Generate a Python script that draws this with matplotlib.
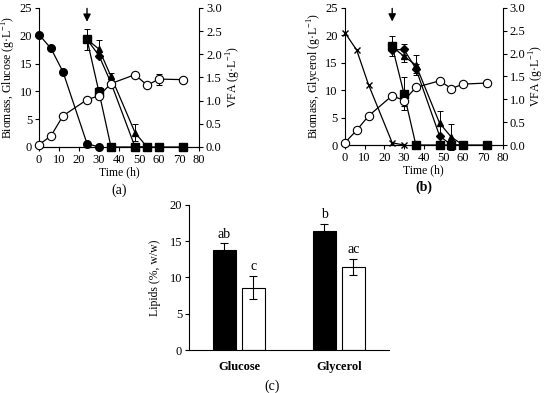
import matplotlib
matplotlib.use("Agg")
import matplotlib.pyplot as plt

plt.rcParams["font.family"] = ["Liberation Serif", "DejaVu Serif"]
plt.rcParams["font.size"] = 9
plt.rcParams["axes.labelsize"] = 8.5
plt.rcParams["mathtext.fontset"] = "custom"
plt.rcParams["mathtext.rm"] = "Liberation Serif"

# ---- panel (a): glucose ----
a_t_sugar = [0, 6, 12, 24, 30]
a_glucose = [20.2, 17.7, 13.5, 0.6, 0.0]
a_t_bio = [0, 6, 12, 24, 30, 36, 48, 54, 60, 72]
a_biomass = [0.4, 2.0, 5.6, 8.5, 9.2, 11.4, 13.0, 11.1, 12.2, 12.1]
a_biomass_err = [0, 0, 0, 0.5, 0.5, 0, 0, 0, 1.0, 0]
a_t_sq = [24, 30, 36, 48, 54, 60, 72]
a_sq = [2.32, 1.18, 0, 0, 0, 0, 0]
a_sq_err = [0.23, 0.12, 0, 0, 0, 0, 0]
a_t_tri = [24, 30, 36, 48, 54]
a_tri = [2.32, 2.11, 1.52, 0.31, 0]
a_tri_err = [0, 0.19, 0.07, 0.19, 0]
a_t_dia = [24, 30, 36, 48, 54]
a_dia = [2.32, 1.97, 1.38, 0, 0]
a_dia_err = [0, 0, 0, 0, 0]

# ---- panel (b): glycerol ----
b_t_sugar = [0, 6, 12, 24, 30]
b_glycerol = [20.5, 17.3, 11.0, 0.4, 0.0]
b_t_bio = [0, 6, 12, 24, 30, 36, 48, 54, 60, 72]
b_biomass = [0.4, 2.7, 5.3, 9.0, 8.1, 10.5, 11.7, 10.3, 11.1, 11.3]
b_biomass_err = [0, 0, 0, 0.5, 1.0, 0, 0, 0, 0, 0]
b_t_sq = [24, 30, 36, 48, 54, 60, 72]
b_sq = [2.16, 1.12, 0, 0, 0, 0, 0]
b_sq_err = [0.22, 0.36, 0, 0, 0, 0, 0]
b_t_tri = [24, 30, 36, 48, 54, 60]
b_tri = [2.15, 1.94, 1.75, 0.48, 0.17, 0]
b_tri_err = [0, 0.12, 0.22, 0.26, 0.28, 0]
b_t_dia = [24, 30, 36, 48, 54, 60]
b_dia = [2.08, 2.09, 1.67, 0.20, 0, 0]
b_dia_err = [0, 0.12, 0.1, 0, 0, 0]

# ---- panel (c): lipids ----
substrates = ["Glucose", "Glycerol"]
lipid_black = [13.8, 16.4]
lipid_black_err = [0.9, 1.0]
lipid_white = [8.6, 11.4]
lipid_white_err = [1.6, 1.1]
letters_black = ["ab", "b"]
letters_white = ["c", "ac"]


def noclip(container):
    for art in container.get_children():
        art.set_clip_on(False)


def kinetics(ax, t_s, sugar, sugar_marker, t_b, bio, bio_err,
             t_sq, sq, sq_err, t_tri, tri, tri_err, t_dia, dia, dia_err,
             ylabel, tag):
    ax2 = ax.twinx()
    kw = dict(color="black", lw=0.9, capsize=2, elinewidth=0.7, capthick=0.7)
    noclip(ax2.errorbar(t_sq, sq, yerr=sq_err, marker="s", ms=5.5, mfc="black", **kw))
    noclip(ax2.errorbar(t_tri, tri, yerr=tri_err, marker="^", ms=5, mfc="black", **kw))
    noclip(ax2.errorbar(t_dia, dia, yerr=dia_err, marker="D", ms=4, mfc="black", **kw))
    if sugar_marker == "o":
        ax.plot(t_s, sugar, color="black", lw=0.9, marker="o", ms=5.5, mfc="black",
                zorder=3, clip_on=False)
    else:
        ax.plot(t_s, sugar, color="black", lw=0.9, marker="x", ms=5, mew=1,
                zorder=3, clip_on=False)
    noclip(ax.errorbar(t_b, bio, yerr=bio_err, marker="o", ms=6, mfc="white", mec="black",
                       mew=0.8, zorder=4, **kw))
    ax.set_zorder(ax2.get_zorder() + 1)
    ax.patch.set_visible(False)

    ax.set_xlim(0, 80)
    ax.set_ylim(0, 25)
    ax2.set_ylim(0, 3.0)
    ax.set_xticks(range(0, 81, 10))
    ax.set_yticks(range(0, 26, 5))
    ax2.set_yticks([0, 0.5, 1.0, 1.5, 2.0, 2.5, 3.0])
    ax2.set_yticklabels(["0.0", "0.5", "1.0", "1.5", "2.0", "2.5", "3.0"])
    for a in (ax, ax2):
        a.spines["top"].set_visible(False)
        a.tick_params(direction="out", length=3, width=0.8, pad=2)
    ax.spines["right"].set_visible(False)
    ax2.spines["left"].set_visible(False)
    ax.set_ylabel(ylabel, labelpad=1)
    ax2.set_ylabel("VFA (g·L$^{-1}$)", labelpad=2)
    ax.set_xlabel("Time (h)", labelpad=0)
    ax.annotate("", xy=(24, 22.0), xytext=(24, 25.4),
                arrowprops=dict(arrowstyle="-|>", color="black", lw=1.0, mutation_scale=11),
                annotation_clip=False)
    ax.text(0.5, -0.31, tag, transform=ax.transAxes, ha="center", va="center", fontsize=10,
            fontweight="bold" if tag == "(b)" else "normal")


fig = plt.figure(figsize=(5.5, 3.93), dpi=100)

ax_a = fig.add_axes([0.0709, 0.626, 0.291, 0.354])
kinetics(ax_a, a_t_sugar, a_glucose, "o", a_t_bio, a_biomass, a_biomass_err,
         a_t_sq, a_sq, a_sq_err, a_t_tri, a_tri, a_tri_err, a_t_dia, a_dia, a_dia_err,
         "Biomass, Glucose (g·L$^{-1}$)", "(a)")

ax_b = fig.add_axes([0.627, 0.631, 0.287, 0.349])
kinetics(ax_b, b_t_sugar, b_glycerol, "x", b_t_bio, b_biomass, b_biomass_err,
         b_t_sq, b_sq, b_sq_err, b_t_tri, b_tri, b_tri_err, b_t_dia, b_dia, b_dia_err,
         "Biomass, Glycerol (g·L$^{-1}$)", "(b)")

ax_c = fig.add_axes([0.3436, 0.1094, 0.3636, 0.369])
pos = list(range(len(substrates)))
w = 0.23
off = 0.145
xb = [p - off for p in pos]
xw = [p + off for p in pos]
ekw = dict(elinewidth=0.8, capthick=0.8)
ax_c.bar(xb, lipid_black, w, yerr=lipid_black_err, color="black", edgecolor="black",
         lw=0.8, capsize=3, error_kw=ekw)
ax_c.bar(xw, lipid_white, w, yerr=lipid_white_err, color="white", edgecolor="black",
         lw=0.8, capsize=3, error_kw=ekw)
for x, v, e, s in zip(xb, lipid_black, lipid_black_err, letters_black):
    ax_c.text(x, v + e + 0.4, s, ha="center", va="bottom", fontsize=10)
for x, v, e, s in zip(xw, lipid_white, lipid_white_err, letters_white):
    ax_c.text(x, v + e + 0.4, s, ha="center", va="bottom", fontsize=10)
ax_c.set_xlim(-0.5, 1.5)
ax_c.set_ylim(0, 20)
ax_c.set_yticks(range(0, 21, 5))
ax_c.set_xticks(pos)
ax_c.set_xticklabels(substrates, fontweight="bold")
ax_c.tick_params(axis="x", length=0, pad=8)
ax_c.tick_params(axis="y", direction="out", length=3, width=0.8, pad=2)
ax_c.spines["top"].set_visible(False)
ax_c.spines["right"].set_visible(False)
ax_c.set_ylabel("Lipids (%, w/w)", labelpad=6)
ax_c.text(0.415, -0.25, "(c)", transform=ax_c.transAxes, ha="center", va="center", fontsize=10)

fig.savefig("out.png", dpi=100)
